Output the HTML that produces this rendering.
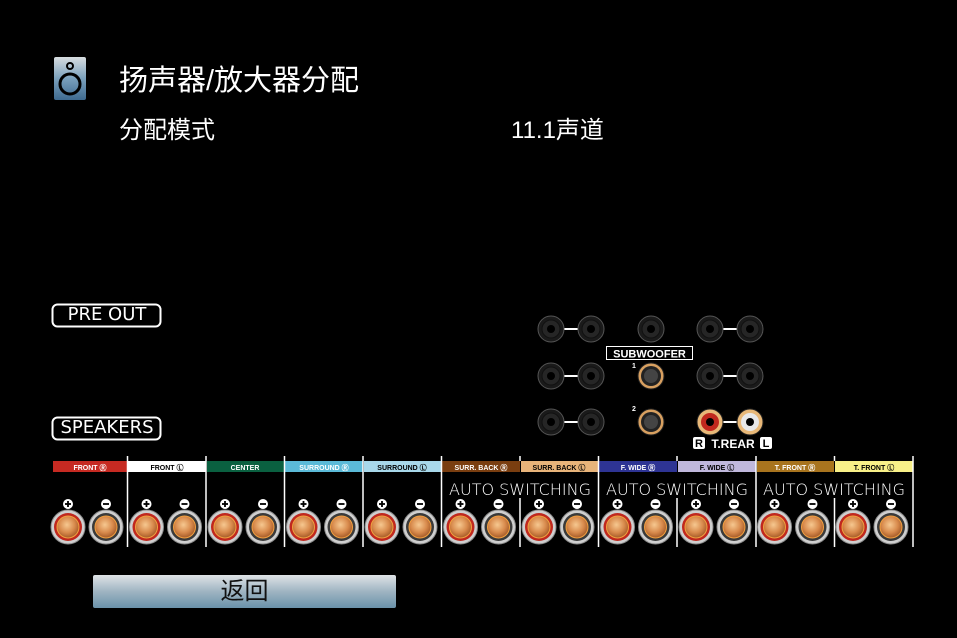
<!DOCTYPE html>
<html><head><meta charset="utf-8"><style>
html,body{margin:0;padding:0;background:#000;}
body{width:957px;height:638px;overflow:hidden;position:relative;font-family:"Liberation Sans","Noto Sans CJK SC",sans-serif;color:#fff;}
.t{position:absolute;white-space:nowrap;}
</style></head><body>
<svg width="957" height="638" style="position:absolute;left:0;top:0" xmlns="http://www.w3.org/2000/svg">
<defs>
<linearGradient id="ic" x1="0" y1="0" x2="0" y2="1"><stop offset="0" stop-color="#d8dde0"/><stop offset="0.5" stop-color="#7aa0bc"/><stop offset="1" stop-color="#3e6a90"/></linearGradient>
<linearGradient id="btn" x1="0" y1="0" x2="0" y2="1"><stop offset="0" stop-color="#dfe3e6"/><stop offset="0.5" stop-color="#9fb4c2"/><stop offset="1" stop-color="#6a92aa"/></linearGradient>
<radialGradient id="cu" cx="0.45" cy="0.4" r="0.6"><stop offset="0" stop-color="#f6c890"/><stop offset="0.6" stop-color="#d88a4c"/><stop offset="1" stop-color="#a45a28"/></radialGradient>
<g id="tp"><circle r="17" fill="#cfcfcf" stroke="#8a8a8a"/><circle r="14" fill="#c0281e"/><circle r="11" fill="url(#cu)" stroke="#f2a040" stroke-width="1"/></g>
<g id="tm"><circle r="17" fill="#cfcfcf" stroke="#8a8a8a"/><circle r="14" fill="#3a3a3a"/><circle r="11" fill="url(#cu)" stroke="#f2a040" stroke-width="1"/></g>
<g id="ip"><circle r="5" fill="#fff"/><rect x="-3" y="-0.9" width="6" height="1.8" fill="#000"/><rect x="-0.9" y="-3" width="1.8" height="6" fill="#000"/></g>
<g id="im"><circle r="5" fill="#fff"/><rect x="-3" y="-0.9" width="6" height="1.8" fill="#000"/></g>
<g id="jk"><circle r="13" fill="#1a1a1a" stroke="#555" stroke-width="1"/><circle r="9" fill="#262626" stroke="#111"/><circle r="4" fill="#000"/></g>
<g id="sw"><circle r="13" fill="#d8a060" stroke="#222"/><circle r="10" fill="#222"/><circle r="7" fill="#444"/></g>
</defs>
<rect x="54" y="57" width="32" height="43" rx="2" fill="url(#ic)"/>
<circle cx="70" cy="66" r="3" fill="none" stroke="#000" stroke-width="2"/>
<circle cx="70" cy="84" r="10" fill="none" stroke="#000" stroke-width="3"/>
<rect x="52.5" y="304.5" width="108" height="22" rx="5" fill="none" stroke="#fff" stroke-width="2"/>
<rect x="52.5" y="417.5" width="108" height="22" rx="5" fill="none" stroke="#fff" stroke-width="2"/>
<line x1="551" y1="329" x2="591" y2="329" stroke="#fff" stroke-width="2"/>
<line x1="710" y1="329" x2="750" y2="329" stroke="#fff" stroke-width="2"/>
<line x1="551" y1="376" x2="591" y2="376" stroke="#fff" stroke-width="2"/>
<line x1="710" y1="376" x2="750" y2="376" stroke="#fff" stroke-width="2"/>
<line x1="551" y1="422" x2="591" y2="422" stroke="#fff" stroke-width="2"/>
<line x1="710" y1="422" x2="750" y2="422" stroke="#fff" stroke-width="2"/>
<use href="#jk" x="551" y="329"/><use href="#jk" x="591" y="329"/><use href="#jk" x="651" y="329"/><use href="#jk" x="710" y="329"/><use href="#jk" x="750" y="329"/>
<use href="#jk" x="551" y="376"/><use href="#jk" x="591" y="376"/><use href="#jk" x="710" y="376"/><use href="#jk" x="750" y="376"/>
<use href="#jk" x="551" y="422"/><use href="#jk" x="591" y="422"/>
<use href="#sw" x="651" y="376"/><use href="#sw" x="651" y="422"/>
<rect x="606.5" y="346.5" width="86" height="13" fill="#000" stroke="#fff" stroke-width="1"/>
<text x="649.5" y="357.5" font-size="11" font-weight="bold" fill="#fff" text-anchor="middle" font-family="Liberation Sans">SUBWOOFER</text>
<text x="634" y="368" font-size="7" font-weight="bold" fill="#fff" text-anchor="middle">1</text>
<text x="634" y="411" font-size="7" font-weight="bold" fill="#fff" text-anchor="middle">2</text>
<circle cx="710" cy="422" r="13" fill="#e8b878" stroke="#222"/><circle cx="710" cy="422" r="9" fill="#c0281e"/><circle cx="710" cy="422" r="4" fill="#000"/>
<circle cx="750" cy="422" r="13" fill="#e8b878" stroke="#222"/><circle cx="750" cy="422" r="9" fill="#e8e8e8"/><circle cx="750" cy="422" r="4" fill="#000"/>
<rect x="693" y="437" width="12" height="12" rx="2" fill="#fff"/><text x="699" y="447" font-size="11" font-weight="bold" fill="#000" text-anchor="middle">R</text>
<text x="733" y="448" font-size="12" font-weight="bold" fill="#fff" text-anchor="middle">T.REAR</text>
<rect x="760" y="437" width="12" height="12" rx="2" fill="#fff"/><text x="766" y="447" font-size="11" font-weight="bold" fill="#000" text-anchor="middle">L</text>
<g font-size="7" font-weight="bold" text-anchor="middle" font-family="Liberation Sans">
<rect x="53" y="461" width="74" height="11" fill="#c62a22"/><text x="90" y="470" fill="#fff">FRONT Ⓡ</text>
<rect x="128" y="461" width="78" height="11" fill="#fff"/><text x="167" y="470" fill="#000">FRONT Ⓛ</text>
<rect x="207" y="461" width="77" height="11" fill="#0a6040"/><text x="245" y="470" fill="#fff">CENTER</text>
<rect x="285" y="461" width="78" height="11" fill="#5bbad8"/><text x="324" y="470" fill="#fff">SURROUND Ⓡ</text>
<rect x="364" y="461" width="77" height="11" fill="#a8d8ea"/><text x="402" y="470" fill="#000">SURROUND Ⓛ</text>
<rect x="442" y="461" width="78" height="11" fill="#7a3e10"/><text x="481" y="470" fill="#fff">SURR. BACK Ⓡ</text>
<rect x="521" y="461" width="77" height="11" fill="#e8b47a"/><text x="559" y="470" fill="#000">SURR. BACK Ⓛ</text>
<rect x="599" y="461" width="78" height="11" fill="#2e3494"/><text x="638" y="470" fill="#fff">F. WIDE Ⓡ</text>
<rect x="678" y="461" width="78" height="11" fill="#c0b8dc"/><text x="717" y="470" fill="#000">F. WIDE Ⓛ</text>
<rect x="757" y="461" width="77" height="11" fill="#a8741e"/><text x="795" y="470" fill="#fff">T. FRONT Ⓡ</text>
<rect x="835" y="461" width="78" height="11" fill="#f8f088"/><text x="874" y="470" fill="#000">T. FRONT Ⓛ</text>
</g>
<g stroke="#fff" stroke-width="1.5">
<line x1="127.5" y1="456" x2="127.5" y2="547"/><line x1="206" y1="456" x2="206" y2="547"/><line x1="284.5" y1="456" x2="284.5" y2="547"/><line x1="363" y1="456" x2="363" y2="547"/><line x1="441.5" y1="456" x2="441.5" y2="547"/>
<line x1="598.5" y1="456" x2="598.5" y2="547"/><line x1="756" y1="456" x2="756" y2="547"/><line x1="913" y1="456" x2="913" y2="547"/>
<line x1="520" y1="498" x2="520" y2="547"/><line x1="677" y1="498" x2="677" y2="547"/><line x1="834.5" y1="498" x2="834.5" y2="547"/>
<line x1="520" y1="456" x2="520" y2="461"/><line x1="677" y1="456" x2="677" y2="461"/><line x1="834.5" y1="456" x2="834.5" y2="461"/>
</g>
<g font-size="16" fill="#fff" text-anchor="middle" font-family="DejaVu Sans" font-weight="200">
<text x="520" y="495">AUTO SWITCHING</text><text x="677" y="495">AUTO SWITCHING</text><text x="834" y="495">AUTO SWITCHING</text>
</g>
<g>
<use href="#tp" x="68" y="527"/><use href="#tm" x="106" y="527"/>
<use href="#tp" x="146.5" y="527"/><use href="#tm" x="184.5" y="527"/>
<use href="#tp" x="225" y="527"/><use href="#tm" x="263" y="527"/>
<use href="#tp" x="303.5" y="527"/><use href="#tm" x="341.5" y="527"/>
<use href="#tp" x="382" y="527"/><use href="#tm" x="420" y="527"/>
<use href="#tp" x="460.5" y="527"/><use href="#tm" x="498.5" y="527"/>
<use href="#tp" x="539" y="527"/><use href="#tm" x="577" y="527"/>
<use href="#tp" x="617.5" y="527"/><use href="#tm" x="655.5" y="527"/>
<use href="#tp" x="696" y="527"/><use href="#tm" x="734" y="527"/>
<use href="#tp" x="774.5" y="527"/><use href="#tm" x="812.5" y="527"/>
<use href="#tp" x="853" y="527"/><use href="#tm" x="891" y="527"/>
<use href="#ip" x="68" y="504"/><use href="#im" x="106" y="504"/>
<use href="#ip" x="146.5" y="504"/><use href="#im" x="184.5" y="504"/>
<use href="#ip" x="225" y="504"/><use href="#im" x="263" y="504"/>
<use href="#ip" x="303.5" y="504"/><use href="#im" x="341.5" y="504"/>
<use href="#ip" x="382" y="504"/><use href="#im" x="420" y="504"/>
<use href="#ip" x="460.5" y="504"/><use href="#im" x="498.5" y="504"/>
<use href="#ip" x="539" y="504"/><use href="#im" x="577" y="504"/>
<use href="#ip" x="617.5" y="504"/><use href="#im" x="655.5" y="504"/>
<use href="#ip" x="696" y="504"/><use href="#im" x="734" y="504"/>
<use href="#ip" x="774.5" y="504"/><use href="#im" x="812.5" y="504"/>
<use href="#ip" x="853" y="504"/><use href="#im" x="891" y="504"/>
</g>
<rect x="93" y="575" width="303" height="33" rx="2" fill="url(#btn)"/>
</svg>
<div class="t" style="left:119px;top:62px;font-size:29px;line-height:38px;">扬声器/放大器分配</div>
<div class="t" style="left:119px;top:115px;font-size:24px;line-height:32px;">分配模式</div>
<div class="t" style="left:511px;top:115px;font-size:24px;line-height:32px;">11.1声道</div>
<div class="t" style="left:52px;top:304px;width:110px;text-align:center;font-size:18px;line-height:22px;font-family:'DejaVu Sans',sans-serif;">PRE OUT</div>
<div class="t" style="left:52px;top:417px;width:110px;text-align:center;font-size:18px;line-height:22px;font-family:'DejaVu Sans',sans-serif;">SPEAKERS</div>
<div class="t" style="left:93px;top:575px;width:303px;text-align:center;font-size:24px;line-height:33px;color:#111;">返回</div>
</body></html>
